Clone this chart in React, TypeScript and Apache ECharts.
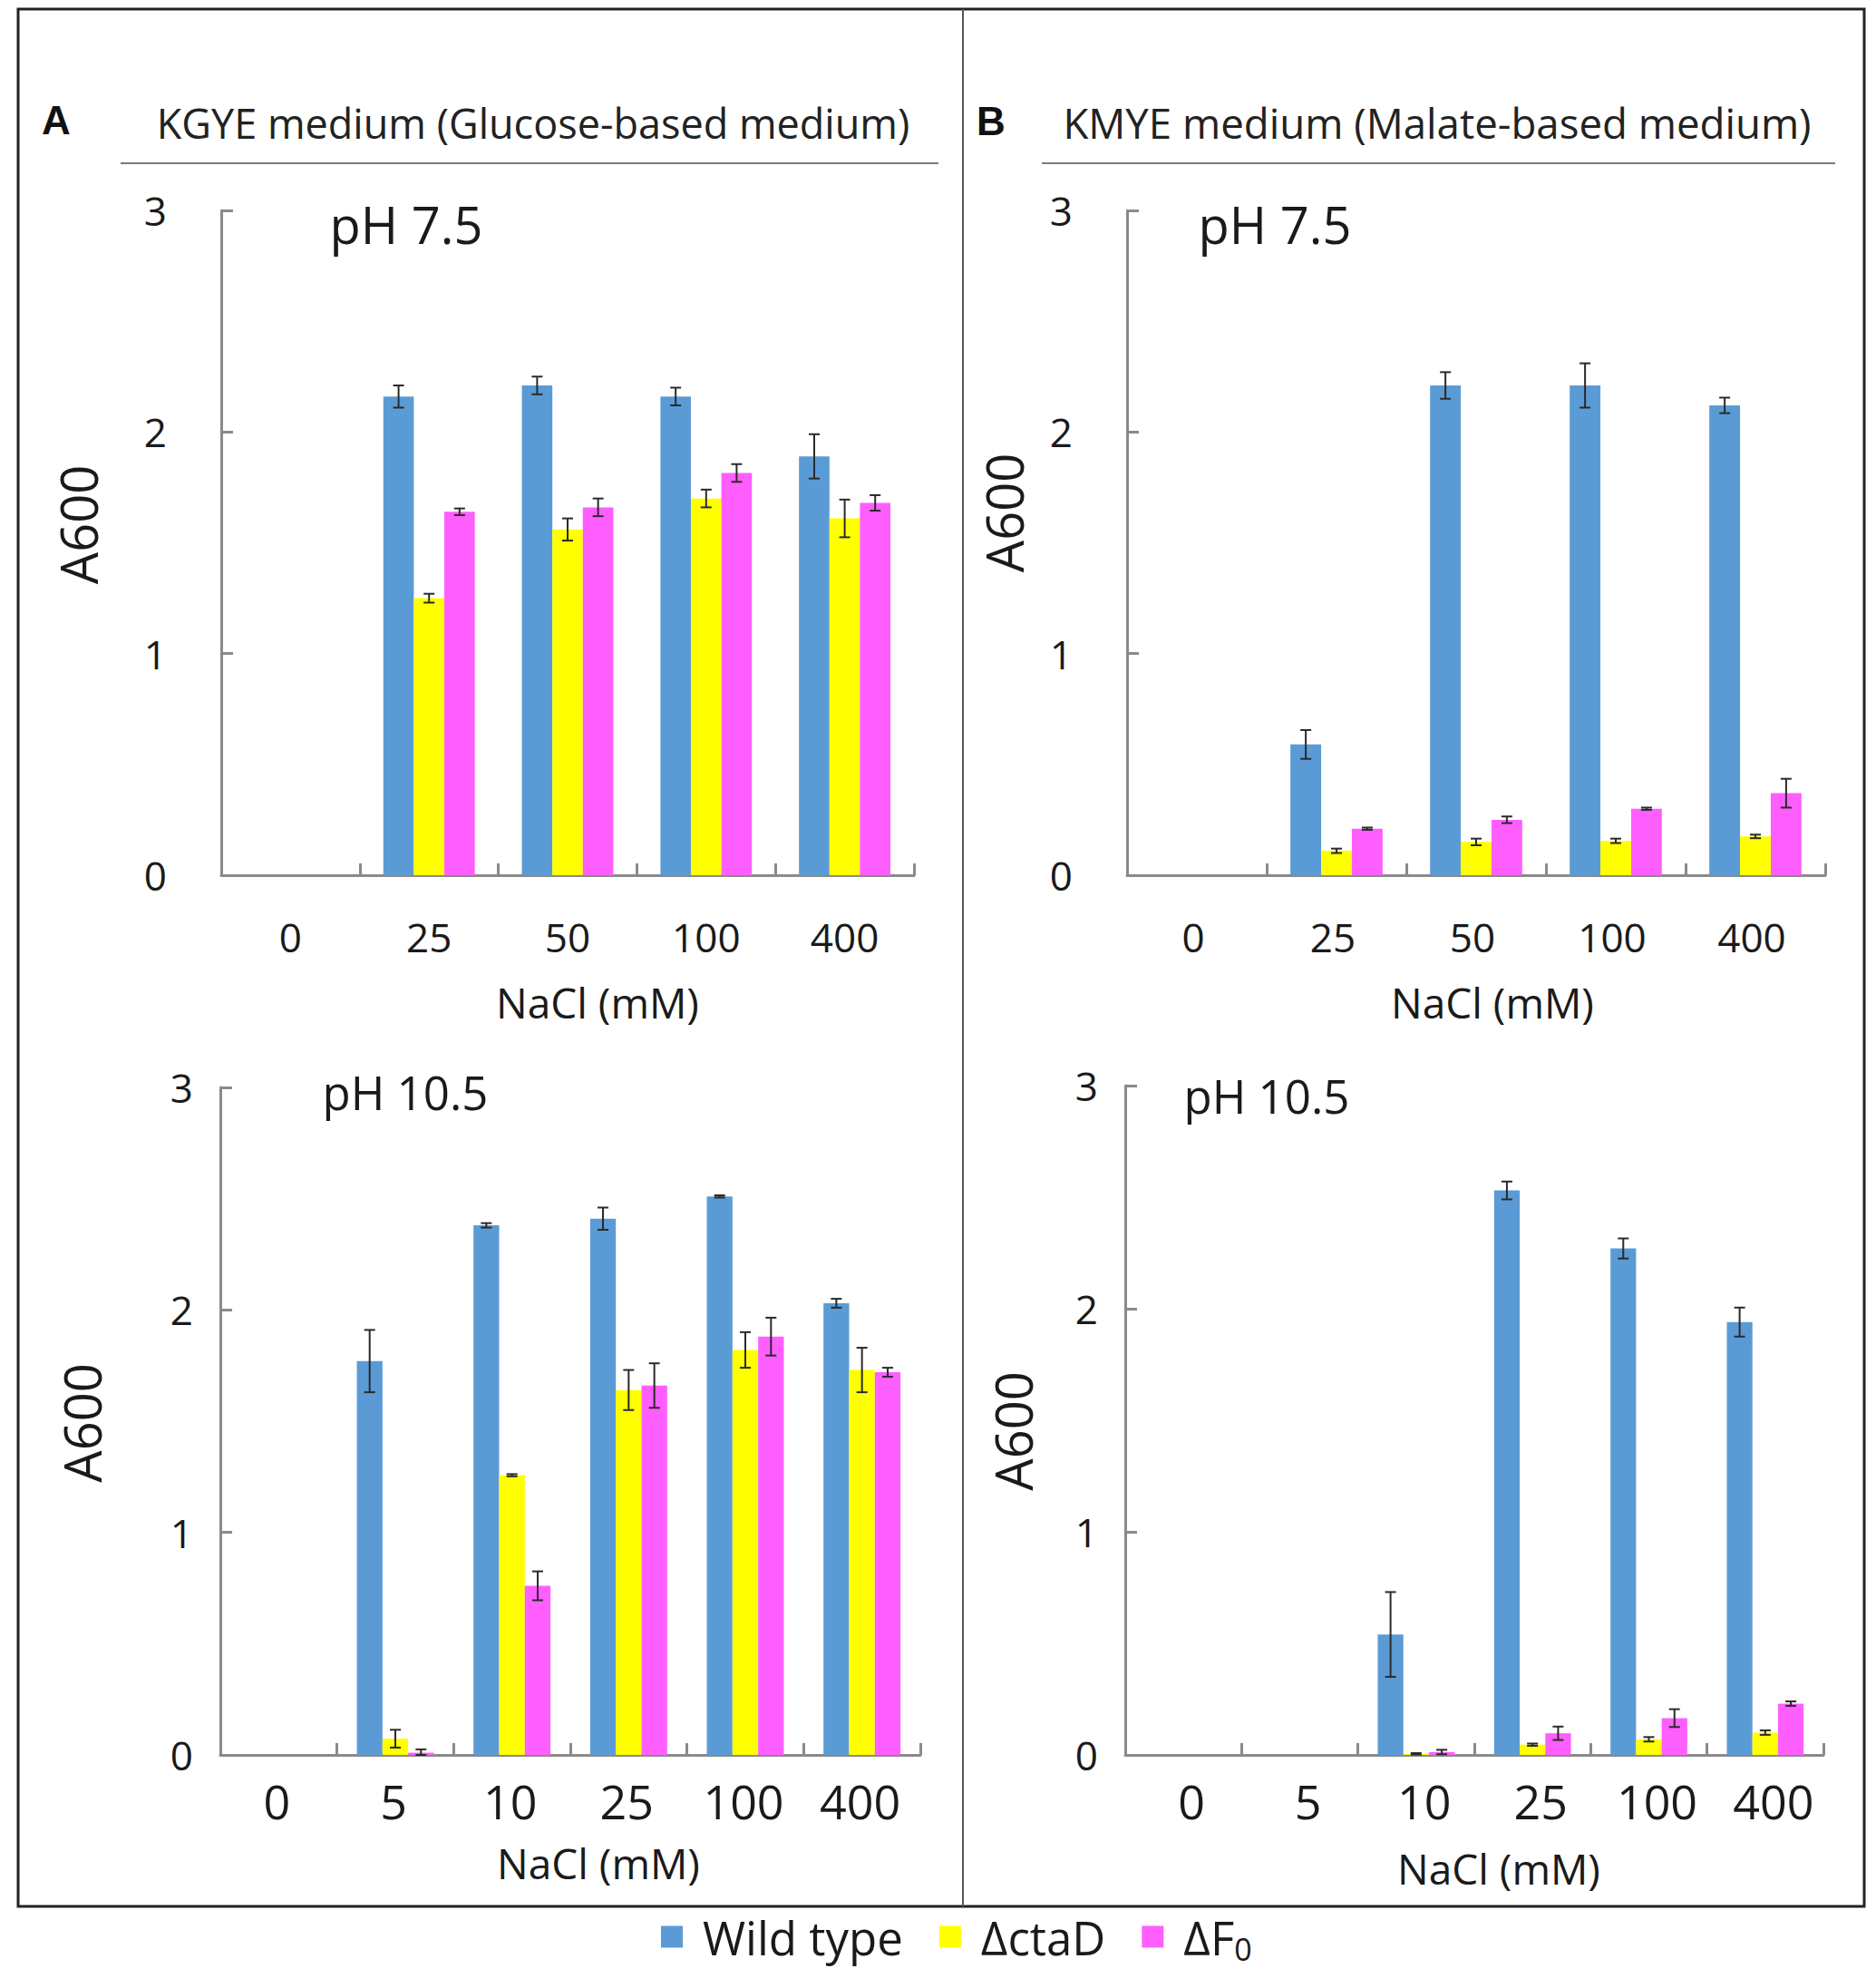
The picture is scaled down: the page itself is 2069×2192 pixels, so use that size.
import React, { useEffect, useRef } from "react";
import * as echarts from "echarts";

// ---------- data ----------
const catsPH75 = ["0", "25", "50", "100", "400"];
const catsPH105 = ["0", "5", "10", "25", "100", "400"];
const seriesNames = ["Wild type", "ΔctaD", "ΔF0"];

// Panel A (KGYE), pH 7.5
const wtA75 = [0, 2.16, 2.21, 2.16, 1.89];
const wtA75Err = [0, 0.05, 0.04, 0.04, 0.1];
const ctaA75 = [0, 1.25, 1.56, 1.7, 1.61];
const ctaA75Err = [0, 0.02, 0.05, 0.04, 0.085];
const f0A75 = [0, 1.64, 1.66, 1.815, 1.68];
const f0A75Err = [0, 0.015, 0.04, 0.04, 0.035];

// Panel B (KMYE), pH 7.5
const wtB75 = [0, 0.59, 2.21, 2.21, 2.12];
const wtB75Err = [0, 0.065, 0.06, 0.1, 0.035];
const ctaB75 = [0, 0.11, 0.15, 0.155, 0.175];
const ctaB75Err = [0, 0.01, 0.015, 0.01, 0.008];
const f0B75 = [0, 0.21, 0.25, 0.3, 0.37];
const f0B75Err = [0, 0.005, 0.015, 0.005, 0.065];

// Panel A (KGYE), pH 10.5
const wtA105 = [0, 1.77, 2.38, 2.41, 2.51, 2.03];
const wtA105Err = [0, 0.14, 0.01, 0.05, 0.005, 0.02];
const ctaA105 = [0, 0.073, 1.257, 1.64, 1.82, 1.73];
const ctaA105Err = [0, 0.04, 0.005, 0.09, 0.08, 0.1];
const f0A105 = [0, 0.01, 0.76, 1.66, 1.88, 1.72];
const f0A105Err = [0, 0.015, 0.065, 0.1, 0.085, 0.02];

// Panel B (KMYE), pH 10.5
const wtB105 = [0, 0, 0.54, 2.53, 2.27, 1.94];
const wtB105Err = [0, 0, 0.19, 0.04, 0.045, 0.065];
const ctaB105 = [0, 0, 0.005, 0.046, 0.07, 0.1];
const ctaB105Err = [0, 0, 0.003, 0.005, 0.01, 0.01];
const f0B105 = [0, 0, 0.013, 0.097, 0.165, 0.23];
const f0B105Err = [0, 0, 0.01, 0.03, 0.04, 0.01];

const yTicks = [0, 1, 2, 3];

const COLORS = ["#5B9BD5", "#FFFF00", "#FF5EFF"];
const FONT = "'Open Sans', 'Noto Sans', sans-serif";
const TXT = "#1a1a1a";
const AXIS = "#8a8a8a";

type Panel = {
  grid: { left: number; top: number; width: number; height: number };
  cats: string[];
  vals: number[][];
  errs: number[][];
  yLabelMargin: number;
  xLabelMargin: number;
  xLabelSize: number;
  xLabelPad: number[];
  nameGapX: number;
  namePadX: number;
  nameGapY: number;
  namePadY: number[];
};

const panels: Panel[] = [
  {
    grid: { left: 244, top: 232, width: 764, height: 733 },
    cats: catsPH75,
    vals: [wtA75, ctaA75, f0A75],
    errs: [wtA75Err, ctaA75Err, f0A75Err],
    yLabelMargin: 60,
    xLabelMargin: 46,
    xLabelSize: 44,
    xLabelPad: [0, 0, 0, 0],
    nameGapX: 117,
    namePadX: 66,
    nameGapY: 130,
    namePadY: [0, 0, 0, 40],
  },
  {
    grid: { left: 1243, top: 232, width: 770, height: 733 },
    cats: catsPH75,
    vals: [wtB75, ctaB75, f0B75],
    errs: [wtB75Err, ctaB75Err, f0B75Err],
    yLabelMargin: 60,
    xLabelMargin: 46,
    xLabelSize: 44,
    xLabelPad: [0, 8, 0, 0],
    nameGapX: 117,
    namePadX: 36,
    nameGapY: 108,
    namePadY: [0, 0, 0, 66],
  },
  {
    grid: { left: 243, top: 1199, width: 772, height: 736 },
    cats: catsPH105,
    vals: [wtA105, ctaA105, f0A105],
    errs: [wtA105Err, ctaA105Err, f0A105Err],
    yLabelMargin: 30,
    xLabelMargin: 24,
    xLabelSize: 52,
    xLabelPad: [0, 4, 0, 0],
    nameGapX: 96,
    namePadX: 62,
    nameGapY: 125,
    namePadY: [0, 4, 0, 0],
  },
  {
    grid: { left: 1241, top: 1197, width: 770, height: 738 },
    cats: catsPH105,
    vals: [wtB105, ctaB105, f0B105],
    errs: [wtB105Err, ctaB105Err, f0B105Err],
    yLabelMargin: 30,
    xLabelMargin: 24,
    xLabelSize: 52,
    xLabelPad: [0, 0, 0, 18],
    nameGapX: 102,
    namePadX: 54,
    nameGapY: 96,
    namePadY: [0, 24, 0, 0],
  },
];

const BAR_FRACTION = 0.22;

function errorSeries(gi: number, vals: number[], errs: number[], offset: number) {
  return {
    type: "custom",
    name: "error",
    xAxisIndex: gi,
    yAxisIndex: gi,
    silent: true,
    z: 5,
    data: vals.map((v, i) => [i, v, errs[i]]),
    renderItem: (params: any, api: any) => {
      const i = api.value(0);
      const v = api.value(1);
      const e = api.value(2);
      if (!e) return { type: "group", children: [] };
      const band = api.size([1, 0])[0];
      const bw = band * BAR_FRACTION;
      const cx = api.coord([i, v])[0] + offset * bw;
      const yTop = api.coord([i, v + e])[1];
      const yBot = api.coord([i, Math.max(0, v - e)])[1];
      const cap = 6;
      const st = { stroke: "#2a2a2a", lineWidth: 2 };
      return {
        type: "group",
        children: [
          { type: "line", shape: { x1: cx, y1: yTop, x2: cx, y2: yBot }, style: st },
          { type: "line", shape: { x1: cx - cap, y1: yTop, x2: cx + cap, y2: yTop }, style: st },
          { type: "line", shape: { x1: cx - cap, y1: yBot, x2: cx + cap, y2: yBot }, style: st },
        ],
      };
    },
  };
}

function buildOption() {
  const grids = panels.map((p) => ({ ...p.grid, containLabel: false }));
  const xAxes = panels.map((p, gi) => ({
    type: "category",
    gridIndex: gi,
    data: p.cats,
    name: "NaCl (mM)",
    nameLocation: "middle",
    nameGap: p.nameGapX,
    nameTextStyle: {
      fontSize: 46,
      fontFamily: FONT,
      color: TXT,
      padding: [0, 0, 0, p.namePadX],
    },
    axisLine: { lineStyle: { color: AXIS, width: 3 } },
    axisTick: { show: true, inside: true, length: 13, interval: 0, lineStyle: { color: AXIS, width: 3 } },
    axisLabel: {
      interval: 0,
      margin: p.xLabelMargin,
      fontSize: p.xLabelSize,
      fontFamily: FONT,
      color: TXT,
      padding: p.xLabelPad,
    },
    splitLine: { show: false },
  }));
  const yAxes = panels.map((p, gi) => ({
    type: "value",
    gridIndex: gi,
    min: yTicks[0],
    max: yTicks[yTicks.length - 1],
    interval: 1,
    name: "A600",
    nameLocation: "middle",
    nameGap: p.nameGapY,
    nameTextStyle: {
      fontSize: 56,
      fontFamily: FONT,
      color: TXT,
      padding: p.namePadY,
    },
    axisLine: { show: true, lineStyle: { color: AXIS, width: 3 } },
    axisTick: { show: true, inside: true, length: 13, lineStyle: { color: AXIS, width: 3 } },
    axisLabel: {
      margin: p.yLabelMargin,
      fontSize: 44,
      fontFamily: FONT,
      color: TXT,
    },
    splitLine: { show: false },
  }));

  const series: any[] = [];
  panels.forEach((p, gi) => {
    seriesNames.forEach((name, si) => {
      series.push({
        type: "bar",
        name,
        xAxisIndex: gi,
        yAxisIndex: gi,
        data: p.vals[si],
        barGap: "0%",
        barCategoryGap: "34%",
        itemStyle: { color: COLORS[si] },
        z: 2,
      });
    });
  });
  panels.forEach((p, gi) => {
    [-1, 0, 1].forEach((off, si) => {
      series.push(errorSeries(gi, p.vals[si], p.errs[si], off));
    });
  });

  const titleStyle = { fontSize: 45, fontFamily: FONT, fill: "#222", align: "center", verticalAlign: "middle" };
  const letterStyle = {
    fontSize: 44,
    fontWeight: "bold",
    fontFamily: "'Liberation Sans', Arial, sans-serif",
    fill: "#111",
    align: "center",
    verticalAlign: "middle",
  };
  const phStyle = (size: number) => ({
    fontSize: size,
    fontFamily: FONT,
    fill: TXT,
    align: "center",
    verticalAlign: "middle",
  });

  const graphic = [
    {
      type: "rect",
      shape: { x: 20, y: 10, width: 2036, height: 2092 },
      style: { fill: "none", stroke: "#222", lineWidth: 3 },
      silent: true,
    },
    {
      type: "line",
      shape: { x1: 1062, y1: 10, x2: 1062, y2: 2102 },
      style: { stroke: "#555", lineWidth: 2 },
      silent: true,
    },
    { type: "text", x: 62, y: 132, style: { ...letterStyle, text: "A" } },
    { type: "text", x: 1093, y: 133, style: { ...letterStyle, text: "B" } },
    { type: "text", x: 588, y: 135, style: { ...titleStyle, text: "KGYE medium (Glucose-based medium)" } },
    {
      type: "text",
      x: 1585,
      y: 135,
      style: { ...titleStyle, fontSize: 45.6, text: "KMYE medium (Malate-based medium)" },
    },
    {
      type: "line",
      shape: { x1: 133, y1: 180, x2: 1035, y2: 180 },
      style: { stroke: "#7a7a7a", lineWidth: 2 },
    },
    {
      type: "line",
      shape: { x1: 1149, y1: 180, x2: 2024, y2: 180 },
      style: { stroke: "#7a7a7a", lineWidth: 2 },
    },
    { type: "text", x: 448, y: 247, style: { ...phStyle(56), text: "pH 7.5" } },
    { type: "text", x: 1406, y: 247, style: { ...phStyle(56), text: "pH 7.5" } },
    { type: "text", x: 447, y: 1204, style: { ...phStyle(51), text: "pH 10.5" } },
    { type: "text", x: 1397, y: 1208, style: { ...phStyle(51), text: "pH 10.5" } },
  ];

  return {
    animation: false,
    backgroundColor: "#ffffff",
    grid: grids,
    xAxis: xAxes,
    yAxis: yAxes,
    legend: {
      data: seriesNames,
      left: 729,
      top: 2110,
      padding: 0,
      itemWidth: 24,
      itemHeight: 24,
      itemGap: 40,
      icon: "rect",
      selectedMode: false,
      formatter: (name: string) =>
        name === "ΔF0" ? "{m|ΔF}{s|0}" : "{m|" + name + "}",
      textStyle: {
        fontFamily: FONT,
        color: TXT,
        fontSize: 51,
        rich: {
          m: { fontSize: 51, fontFamily: FONT, color: TXT, lineHeight: 60, padding: [0, 0, 0, 17] },
          s: { fontSize: 34, fontFamily: FONT, color: TXT, lineHeight: 38, verticalAlign: "bottom" },
        },
      },
    },
    graphic,
    series,
  };
}

export default function App() {
  const ref = useRef<HTMLDivElement>(null);
  useEffect(() => {
    if (!ref.current) return;
    const chart = echarts.init(ref.current, undefined, { renderer: "svg" });
    chart.setOption(buildOption() as any);
    return () => chart.dispose();
  }, []);
  return (
    <div
      ref={ref}
      style={{ position: "absolute", left: 0, top: 0, width: 2069, height: 2192, background: "#fff" }}
    />
  );
}
